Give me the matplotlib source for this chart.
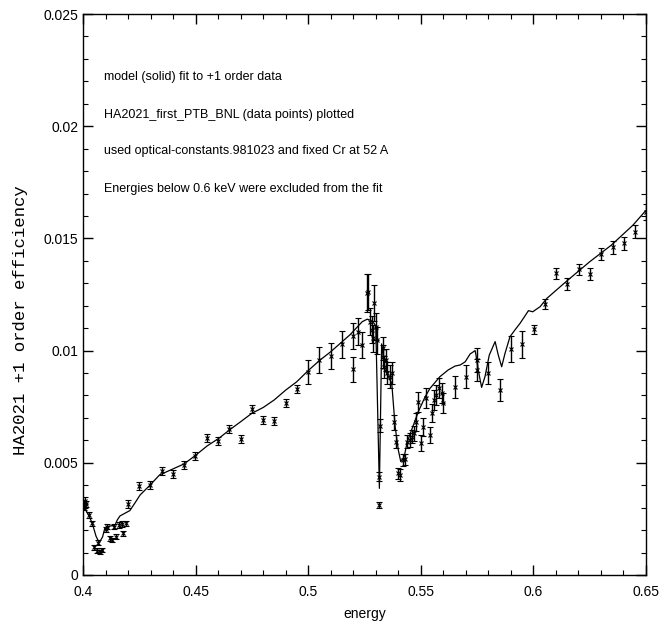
import matplotlib
matplotlib.use("Agg")
import matplotlib.pyplot as plt
from matplotlib.ticker import MultipleLocator

plt.rcParams['font.family'] = ['Liberation Sans', 'DejaVu Sans']

# measured +1 order efficiency (energy, efficiency, 1-sigma error)
energy = [0.4009, 0.4013, 0.4006, 0.4028, 0.4041, 0.4049, 0.4061, 0.4067, 0.4075, 0.4086,
          0.4102, 0.4108, 0.4120, 0.4127, 0.4138, 0.4147, 0.4160, 0.4172, 0.4179, 0.4190,
          0.4201, 0.4250, 0.4298, 0.4349, 0.4398, 0.4449, 0.4497, 0.4549, 0.4598, 0.4650,
          0.4700, 0.4749, 0.4801, 0.4849, 0.4900, 0.4949, 0.4999, 0.5049, 0.5100, 0.5149,
          0.5200, 0.5200, 0.5222, 0.5240, 0.5260, 0.5267, 0.5274, 0.5282, 0.5289, 0.5293,
          0.5301, 0.5304, 0.5314, 0.5314, 0.5319, 0.5330, 0.5333, 0.5338, 0.5345, 0.5351,
          0.5363, 0.5370, 0.5381, 0.5390, 0.5400, 0.5408, 0.5419, 0.5430, 0.5440, 0.5452,
          0.5462, 0.5470, 0.5479, 0.5489, 0.5499, 0.5511, 0.5522, 0.5541, 0.5548, 0.5559,
          0.5568, 0.5582, 0.5593, 0.5597, 0.5652, 0.5701, 0.5748, 0.5751, 0.5800, 0.5852,
          0.5900, 0.5951, 0.6003, 0.6052, 0.6100, 0.6151, 0.6201, 0.6251, 0.6302, 0.6352,
          0.6402, 0.6453, 0.6500]
eff = [0.00331, 0.00316, 0.00304, 0.00267, 0.00230, 0.00123, 0.00108, 0.00144, 0.00102, 0.00111,
       0.00204, 0.00215, 0.00163, 0.00156, 0.00215, 0.00171, 0.00223, 0.00227, 0.00186, 0.00230,
       0.00318, 0.00397, 0.00401, 0.00465, 0.00452, 0.00489, 0.00530, 0.00609, 0.00597, 0.00649,
       0.00606, 0.00738, 0.00691, 0.00688, 0.00765, 0.00828, 0.00906, 0.00958, 0.00976, 0.01029,
       0.01065, 0.00917, 0.01084, 0.01025, 0.01255, 0.01262, 0.01129, 0.01092, 0.01055, 0.01211,
       0.01107, 0.01047, 0.00438, 0.00312, 0.00665, 0.01010, 0.00973, 0.00928, 0.00958, 0.00899,
       0.00884, 0.00899, 0.00680, 0.00594, 0.00453, 0.00446, 0.00512, 0.00516, 0.00594, 0.00602,
       0.00616, 0.00631, 0.00683, 0.00772, 0.00587, 0.00661, 0.00787, 0.00624, 0.00720, 0.00780,
       0.00802, 0.00832, 0.00810, 0.00765, 0.00839, 0.00884, 0.00958, 0.00913, 0.00899, 0.00824,
       0.01007, 0.01028, 0.01096, 0.01208, 0.01344, 0.01297, 0.01362, 0.01341, 0.01430, 0.01460,
       0.01478, 0.01530, 0.01619]
err = [0.00015, 0.00015, 0.00015, 0.00013, 0.00012, 0.00010, 0.00010, 0.00010, 0.00010, 0.00010,
       0.00012, 0.00012, 0.00010, 0.00010, 0.00012, 0.00010, 0.00012, 0.00012, 0.00012, 0.00012,
       0.00018, 0.00018, 0.00018, 0.00018, 0.00018, 0.00018, 0.00018, 0.00018, 0.00018, 0.00018,
       0.00018, 0.00018, 0.00018, 0.00018, 0.00018, 0.00018, 0.00053, 0.00056, 0.00058, 0.00060,
       0.00060, 0.00055, 0.00060, 0.00060, 0.00085, 0.00080, 0.00060, 0.00060, 0.00060, 0.00080,
       0.00060, 0.00060, 0.00020, 0.00015, 0.00030, 0.00050, 0.00050, 0.00050, 0.00050, 0.00050,
       0.00050, 0.00050, 0.00035, 0.00030, 0.00025, 0.00025, 0.00025, 0.00025, 0.00030, 0.00030,
       0.00030, 0.00035, 0.00040, 0.00045, 0.00035, 0.00040, 0.00045, 0.00035, 0.00040, 0.00045,
       0.00045, 0.00045, 0.00045, 0.00045, 0.00049, 0.00050, 0.00055, 0.00050, 0.00050, 0.00048,
       0.00060, 0.00060, 0.00020, 0.00022, 0.00026, 0.00025, 0.00026, 0.00026, 0.00028, 0.00028,
       0.00028, 0.00030, 0.00035]

# model curve fitted to the +1 order data
model_e = [0.4000, 0.4028, 0.4041, 0.4058, 0.4072, 0.4087, 0.4097, 0.4120, 0.4142, 0.4152,
           0.4164, 0.4186, 0.4208, 0.4230, 0.4253, 0.4298, 0.4340, 0.4398, 0.4449, 0.4502,
           0.4551, 0.4603, 0.4650, 0.4700, 0.4749, 0.4801, 0.4849, 0.4900, 0.4949, 0.4999,
           0.5049, 0.5100, 0.5185, 0.5240, 0.5262, 0.5277, 0.5292, 0.5300, 0.5316, 0.5326,
           0.5341, 0.5356, 0.5371, 0.5386, 0.5400, 0.5411, 0.5426, 0.5440, 0.5467, 0.5489,
           0.5519, 0.5541, 0.5585, 0.5622, 0.5652, 0.5675, 0.5697, 0.5719, 0.5734, 0.5741,
           0.5745, 0.5755, 0.5770, 0.5785, 0.5804, 0.5830, 0.5844, 0.5859, 0.5874, 0.5896,
           0.5918, 0.5941, 0.5978, 0.5997, 0.6030, 0.6060, 0.6148, 0.6250, 0.6346, 0.6442,
           0.6498]
model_eff = [0.00312, 0.00260, 0.00230, 0.00172, 0.00144, 0.00170, 0.00210, 0.00218, 0.00222, 0.00245,
             0.00263, 0.00275, 0.00287, 0.00320, 0.00356, 0.00401, 0.00446, 0.00472, 0.00495, 0.00535,
             0.00575, 0.00609, 0.00646, 0.00683, 0.00720, 0.00747, 0.00780, 0.00824, 0.00861, 0.00910,
             0.00955, 0.00995, 0.01070, 0.01129, 0.01140, 0.01135, 0.01122, 0.01110, 0.00386, 0.01030,
             0.00914, 0.00884, 0.00854, 0.00661, 0.00557, 0.00505, 0.00527, 0.00594, 0.00668, 0.00728,
             0.00794, 0.00832, 0.00884, 0.00914, 0.00931, 0.00936, 0.00950, 0.00985, 0.00995, 0.01000,
             0.00980, 0.00913, 0.00836, 0.00884, 0.00980, 0.01040, 0.00980, 0.00928, 0.00988, 0.01062,
             0.01092, 0.01122, 0.01178, 0.01173, 0.01196, 0.01233, 0.01310, 0.01396, 0.01470, 0.01559,
             0.01623]

notes = ["model (solid) fit to +1 order data",
         "HA2021_first_PTB_BNL (data points) plotted",
         "used optical-constants.981023 and fixed Cr at 52 A",
         "Energies below 0.6 keV were excluded from the fit"]
note_y = [0.0222, 0.0205, 0.0189, 0.0172]

fig = plt.figure(figsize=(6.6, 6.29), dpi=100)
ax = fig.add_axes([0.1258, 0.0859, 0.8530, 0.8918])

ax.plot(model_e, model_eff, color='black', lw=0.9)
ax.errorbar(energy, eff, yerr=err, fmt='x', color='black', ms=3, mew=0.8,
            ecolor='black', elinewidth=1.0, capsize=2.5, capthick=1.0)

for txt, ty in zip(notes, note_y):
    ax.text(0.4095, ty, txt, fontsize=9, va='center', ha='left')

ax.set_xlim(0.4, 0.65)
ax.set_ylim(0, 0.025)
ax.xaxis.set_minor_locator(MultipleLocator(0.01))
ax.yaxis.set_minor_locator(MultipleLocator(0.001))
ax.set_xticks([0.4, 0.45, 0.5, 0.55, 0.6, 0.65])
ax.set_xticklabels(['0.4', '0.45', '0.5', '0.55', '0.6', '0.65'])
ax.set_yticks([0, 0.005, 0.01, 0.015, 0.02, 0.025])
ax.set_yticklabels(['0', '0.005', '0.01', '0.015', '0.02', '0.025'])
ax.tick_params(which='both', direction='in', top=True, right=True, labelsize=10)
ax.tick_params(which='major', length=7, width=1)
ax.tick_params(which='minor', length=3.5, width=0.8)
ax.tick_params(axis='x', which='major', pad=7)
for s in ax.spines.values():
    s.set_linewidth(1.0)

ax.set_xlabel('energy', fontsize=10, labelpad=6)
ax.set_ylabel('HA2021 +1 order efficiency', fontsize=12.5, family='Liberation Mono')
ax.yaxis.set_label_coords(-0.098, 0.455)

fig.savefig('out.png', dpi=100)
